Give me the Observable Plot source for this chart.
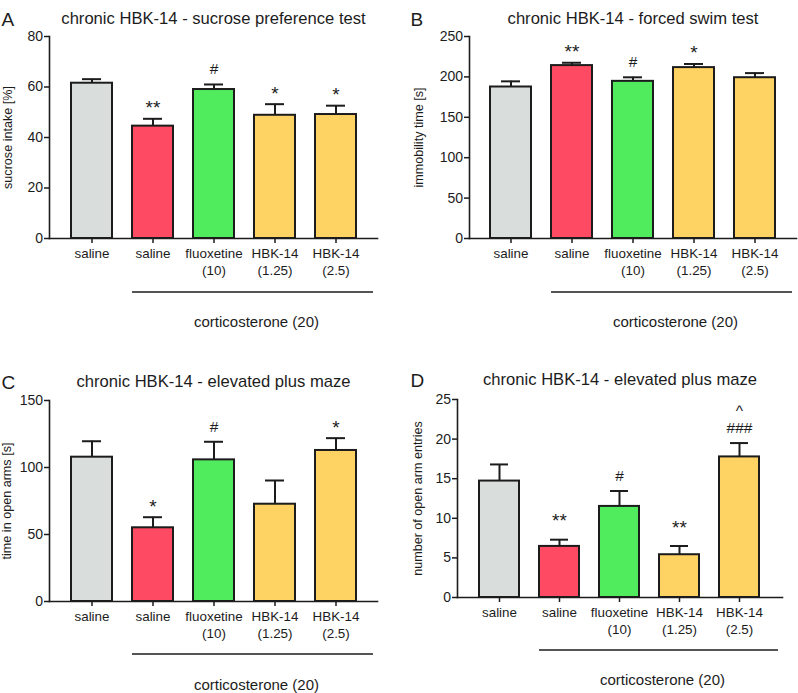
<!DOCTYPE html>
<html><head><meta charset="utf-8">
<script src="https://cdn.jsdelivr.net/npm/d3@7"></script>
<script src="https://cdn.jsdelivr.net/npm/@observablehq/plot@0.6"></script>
<style>
body{margin:0;background:#fff;}
#wrap{position:relative;width:798px;height:693px;overflow:hidden;font-family:"Liberation Sans",Arial,sans-serif;}
.panel{position:absolute;}
</style></head><body><div id="wrap"></div>
<script>
// groups (categories)
const groups = ["ctrl", "cort", "fluox", "hbk125", "hbk25"];
const groupLabels = ["saline", "saline", "fluoxetine\n(10)", "HBK-14\n(1.25)", "HBK-14\n(2.5)"];
const groupColors = ["#d9dddc", "#ff4a63", "#50ec5d", "#fed263", "#fed263"];
const cortLabel = "corticosterone (20)";

// A: sucrose preference test
const sucroseMean = [61.5, 44.5, 59.0, 48.8, 49.1];
const sucroseSem = [1.6, 2.9, 2.0, 4.4, 3.5];
const sucroseSig = ["", "**", "#", "*", "*"];
const sucroseTicks = [0, 20, 40, 60, 80];

// B: forced swim test
const swimMean = [187.5, 214, 194.5, 211.5, 199];
const swimSem = [7, 3.5, 5, 4.5, 5.7];
const swimSig = ["", "**", "#", "*", ""];
const swimTicks = [0, 50, 100, 150, 200, 250];

// C: elevated plus maze - time in open arms
const openTimeMean = [107.7, 55.0, 105.7, 72.6, 112.7];
const openTimeSem = [11.9, 7.9, 13.5, 17.7, 9.2];
const openTimeSig = ["", "*", "#", "", "*"];
const openTimeTicks = [0, 50, 100, 150];

// D: elevated plus maze - open arm entries
const entriesMean = [14.7, 6.45, 11.5, 5.4, 17.75];
const entriesSem = [2.1, 0.85, 1.95, 1.1, 1.75];
const entriesSig = ["", "**", "#", "**", "###"];
const entriesSig2 = ["", "", "", "", "^"];
const entriesTicks = [0, 5, 10, 15, 20, 25];

const FONT = "Liberation Sans, Arial, Helvetica, sans-serif";
const INK = "#1c1c1c";

const panels = [
  {letter: "A", title: "chronic HBK-14 - sucrose preference test", ylabel: "sucrose intake [%]",
   mean: sucroseMean, sem: sucroseSem, sig: sucroseSig, ticks: sucroseTicks,
   left: 0, top: 0, width: 400, height: 340, ml: 49, mr: 23, mt: 36, mb: 102,
   titleDy: -24, letterDx: 1, ylabelX: 7.5, starDy: -4.5, hashDy: -10, lineOff: 54, textOff: 84},
  {letter: "B", title: "chronic HBK-14 - forced swim test", ylabel: "immobility time [s]",
   mean: swimMean, sem: swimSem, sig: swimSig, ticks: swimTicks,
   left: 400, top: 0, width: 398, height: 340, ml: 69, mr: 2, mt: 36, mb: 102,
   titleDy: -24, letterDx: 10, ylabelX: 18, starDy: -4.5, hashDy: -10, lineOff: 54, textOff: 84},
  {letter: "C", title: "chronic HBK-14 - elevated plus maze", ylabel: "time in open arms [s]",
   mean: openTimeMean, sem: openTimeSem, sig: openTimeSig, ticks: openTimeTicks,
   left: 0, top: 340, width: 400, height: 353, ml: 49, mr: 23, mt: 60, mb: 92,
   titleDy: -25, letterDx: 1, ylabelX: 6, starDy: -4.5, hashDy: -10, lineOff: 53, textOff: 84},
  {letter: "D", title: "chronic HBK-14 - elevated plus maze", ylabel: "number of open arm entries",
   mean: entriesMean, sem: entriesSem, sig: entriesSig, sig2: entriesSig2, ticks: entriesTicks,
   left: 400, top: 340, width: 398, height: 353, ml: 57, mr: 16, mt: 59, mb: 96,
   titleDy: -26, letterDx: 10, ylabelX: 17, starDy: -12.5, hashDy: -10, lineOff: 53, textOff: 83}
];

const wrap = document.getElementById("wrap");

for (const cfg of panels) {
  const data = groups.map((g, i) => ({
    g, mean: cfg.mean[i], sem: cfg.sem[i], top: cfg.mean[i] + cfg.sem[i],
    sig: cfg.sig[i], sig2: cfg.sig2 ? cfg.sig2[i] : ""
  }));
  const labelOf = new Map(groups.map((g, i) => [g, groupLabels[i]]));
  const plot = Plot.plot({
    width: cfg.width, height: cfg.height,
    marginTop: cfg.mt, marginBottom: cfg.mb, marginLeft: cfg.ml, marginRight: cfg.mr,
    style: {fontFamily: FONT, fontSize: "13.5px", color: INK, background: "transparent", overflow: "visible"},
    x: {domain: groups, padding: 0.33, align: 0.5},
    y: {domain: [cfg.ticks[0], cfg.ticks[cfg.ticks.length - 1]]},
    color: {domain: groups, range: groupColors},
    marks: [
      Plot.barY(data, {x: "g", y: "mean", fill: "g", stroke: INK, strokeWidth: 2}),
      Plot.ruleX(data, {x: "g", y1: "mean", y2: "top", stroke: INK, strokeWidth: 2}),
      Plot.tickY(data, {x: "g", y: "top", stroke: INK, strokeWidth: 2, insetLeft: 11, insetRight: 11}),
      Plot.text(data, {filter: d => d.sig.includes("*"), x: "g", y: "top", text: "sig", lineAnchor: "bottom", dy: cfg.starDy, fontSize: 19, fill: INK}),
      Plot.text(data, {filter: d => d.sig.includes("#"), x: "g", y: "top", text: "sig", lineAnchor: "bottom", dy: cfg.hashDy, fontSize: 15.5, fill: INK}),
      Plot.text(data, {filter: d => d.sig2 !== "", x: "g", y: "top", text: "sig2", lineAnchor: "bottom", dy: -27.5, fontSize: 15.5, fill: INK}),
      Plot.axisY({ticks: cfg.ticks, tickSize: 5, tickPadding: 1.5, fontSize: 14, label: null, stroke: INK, strokeWidth: 1.5}),
      Plot.axisX({tickSize: 5, tickPadding: 2, tickFormat: g => labelOf.get(g), lineHeight: 1.27, fontSize: 13.4, label: null, stroke: INK, strokeWidth: 1.5}),
      Plot.frame({anchor: "left", stroke: INK, strokeWidth: 1.6}),
      Plot.frame({anchor: "bottom", stroke: INK, strokeWidth: 1.6}),
      Plot.text([cfg.title], {frameAnchor: "top", dy: cfg.titleDy, fontSize: 16.6, fill: INK}),
      Plot.text([cfg.letter], {frameAnchor: "top-left", dx: cfg.letterDx - cfg.ml, dy: cfg.titleDy, textAnchor: "start", fontSize: 19, fill: INK}),
      Plot.text([cfg.ylabel], {frameAnchor: "left", dx: cfg.ylabelX - cfg.ml, rotate: -90, textAnchor: "middle", fontSize: 12.6, fill: INK})
    ]
  });
  // corticosterone bracket under the corticosterone-treated groups
  const xs = plot.scale("x");
  const x1 = xs.apply("cort");
  const x2 = cfg.width - cfg.mr - 4;
  const yAxis = cfg.height - cfg.mb;
  const svg = d3.select(plot);
  svg.append("line")
    .attr("x1", x1).attr("x2", x2)
    .attr("y1", yAxis + cfg.lineOff).attr("y2", yAxis + cfg.lineOff)
    .attr("stroke", INK).attr("stroke-width", 1.5);
  svg.append("text")
    .attr("x", (x1 + x2) / 2 + 4).attr("y", yAxis + cfg.textOff)
    .attr("dy", "0.35em")
    .attr("text-anchor", "middle")
    .attr("font-size", 15).attr("fill", INK)
    .text(cortLabel);
  const div = document.createElement("div");
  div.className = "panel";
  div.style.left = cfg.left + "px";
  div.style.top = cfg.top + "px";
  div.appendChild(plot);
  wrap.appendChild(div);
}
</script></body></html>
